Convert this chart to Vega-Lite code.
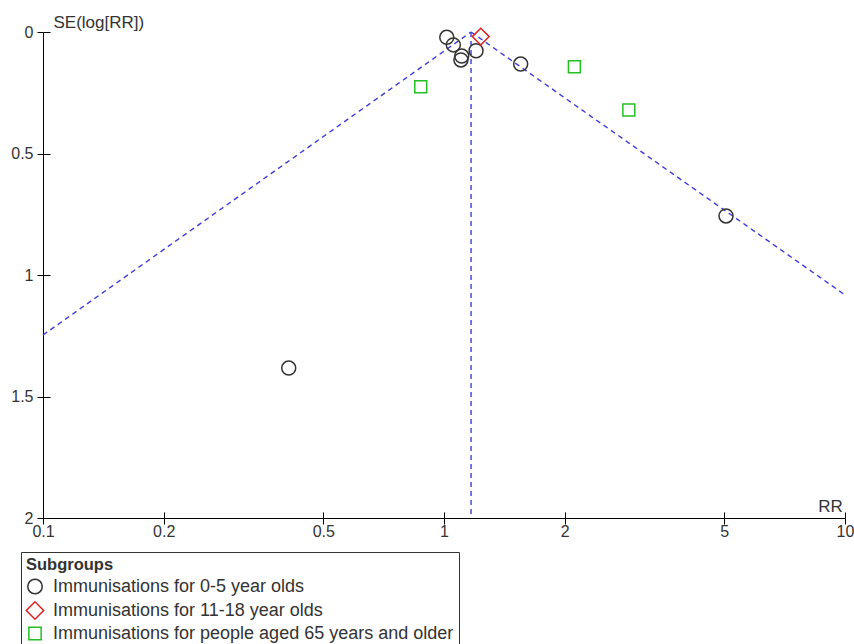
{
  "$schema": "https://vega.github.io/schema/vega-lite/v6.json",
  "width": 802,
  "height": 486,
  "autosize": {"type": "none"},
  "padding": {"left": 43, "top": 32, "right": 9, "bottom": 126},
  "background": "white",
  "config": {
    "font": "Liberation Sans",
    "view": {"stroke": null},
    "axis": {"domainColor": "#000", "tickColor": "#000", "labelColor": "#333", "labelFontSize": 16, "titleFontSize": 17, "titleFontWeight": "normal", "titleColor": "#333", "grid": false, "labelFont": "Liberation Sans", "titleFont": "Liberation Sans"}
  },
  "datasets": {
    "studies": [
      {"rr": 1.016, "se": 0.022, "group": "Immunisations for 0-5 year olds"},
      {"rr": 1.055, "se": 0.053, "group": "Immunisations for 0-5 year olds"},
      {"rr": 1.107, "se": 0.099, "group": "Immunisations for 0-5 year olds"},
      {"rr": 1.102, "se": 0.115, "group": "Immunisations for 0-5 year olds"},
      {"rr": 1.202, "se": 0.077, "group": "Immunisations for 0-5 year olds"},
      {"rr": 1.553, "se": 0.132, "group": "Immunisations for 0-5 year olds"},
      {"rr": 5.05, "se": 0.757, "group": "Immunisations for 0-5 year olds"},
      {"rr": 0.41, "se": 1.383, "group": "Immunisations for 0-5 year olds"},
      {"rr": 1.235, "se": 0.019, "group": "Immunisations for 11-18 year olds"},
      {"rr": 0.875, "se": 0.225, "group": "Immunisations for people aged 65 years and older"},
      {"rr": 2.114, "se": 0.143, "group": "Immunisations for people aged 65 years and older"},
      {"rr": 2.89, "se": 0.321, "group": "Immunisations for people aged 65 years and older"}
    ],
    "funnel": [
      {"seg": "left", "o": 1, "rr": 0.1, "se": 1.247},
      {"seg": "left", "o": 2, "rr": 1.168, "se": 0},
      {"seg": "right", "o": 1, "rr": 1.168, "se": 0},
      {"seg": "right", "o": 2, "rr": 10, "se": 1.082},
      {"seg": "mid", "o": 1, "rr": 1.168, "se": 0},
      {"seg": "mid", "o": 2, "rr": 1.168, "se": 2}
    ]
  },
  "resolve": {"scale": {"x": "independent", "y": "independent"}, "axis": {"x": "independent", "y": "independent"}},
  "layer": [
    {
      "data": {"name": "funnel"},
      "mark": {"type": "line", "color": "#3c3cdc", "strokeWidth": 1.4, "strokeDash": [5, 4]},
      "encoding": {
        "x": {"field": "rr", "type": "quantitative", "scale": {"type": "log", "domain": [0.1, 10], "nice": false},
              "axis": {"orient": "bottom", "values": [0.1, 0.2, 0.5, 1, 2, 5, 10], "labelExpr": "datum.value < 1 ? format(datum.value, '.1f') : format(datum.value, 'd')", "title": "RR", "titleX": 787, "titleY": -7, "titleAlign": "center", "titleBaseline": "alphabetic", "tickSize": 6, "labelPadding": -1, "labelFlush": false}},
        "y": {"field": "se", "type": "quantitative", "scale": {"domain": [0, 2], "reverse": true, "nice": false, "zero": false},
              "axis": {"orient": "left", "values": [0, 0.5, 1, 1.5, 2], "format": "~g", "title": "SE(log[RR])", "titleAngle": 0, "titleX": 10, "titleY": -5, "titleAlign": "left", "titleBaseline": "alphabetic", "tickSize": 6, "labelPadding": 4, "labelFlush": false}},
        "detail": {"field": "seg"},
        "order": {"field": "o"}
      }
    },
    {
      "data": {"name": "studies"},
      "mark": {"type": "point", "filled": false, "strokeWidth": 1.5, "opacity": 1, "size": 196},
      "encoding": {
        "x": {"field": "rr", "type": "quantitative", "scale": {"type": "log", "domain": [0.1, 10], "nice": false},
              "axis": {"orient": "bottom", "offset": -6, "values": [0.1, 0.2, 0.5, 1, 2, 5, 10], "tickSize": 6, "labels": false, "domain": false, "title": null}},
        "y": {"field": "se", "type": "quantitative", "scale": {"domain": [0, 2], "reverse": true, "nice": false, "zero": false},
              "axis": {"orient": "left", "offset": -7, "values": [0, 0.5, 1, 1.5, 2], "tickSize": 7, "labels": false, "domain": false, "title": null}},
        "shape": {"field": "group", "type": "nominal",
                  "scale": {"domain": ["Immunisations for 0-5 year olds", "Immunisations for 11-18 year olds", "Immunisations for people aged 65 years and older"], "range": ["circle", "M0,-1.2L1.2,0L0,1.2L-1.2,0Z", "M-0.85,-0.85H0.85V0.85H-0.85Z"]},
                  "legend": {"title": "Subgroups", "orient": "none", "legendX": -22, "legendY": 520, "strokeColor": "#333", "fillColor": "white", "padding": 5, "titleFontSize": 16.5, "titleFontWeight": "bold", "titleColor": "#333", "titlePadding": 4, "labelFontSize": 18, "labelColor": "#333", "labelLimit": 0, "symbolSize": 210, "symbolStrokeWidth": 1.5, "rowPadding": 1, "labelOffset": 9}},
        "color": {"field": "group", "type": "nominal",
                  "scale": {"domain": ["Immunisations for 0-5 year olds", "Immunisations for 11-18 year olds", "Immunisations for people aged 65 years and older"], "range": ["#333333", "#dd2222", "#22c022"]}}
      }
    }
  ]
}
